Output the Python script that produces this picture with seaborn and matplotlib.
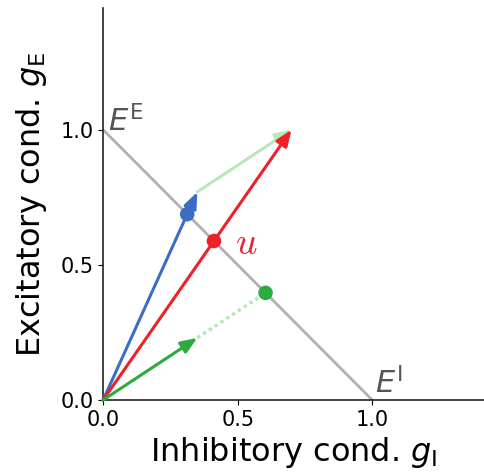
import matplotlib
matplotlib.use("Agg")
import matplotlib.pyplot as plt
import seaborn as sns
import numpy as np
import pandas as pd

# data
vec_names = ["blue", "green", "red"]
vec_gI = [0.35, 0.35, 0.70]
vec_gE = [0.77, 0.23, 1.00]
line_gI = [0.0, 1.0]
line_gE = [1.0, 0.0]
ticks = [0.0, 0.5, 1.0]
tick_labels = ["0.0", "0.5", "1.0"]

c_blue = "#3a6ec4"
c_green = "#2eab3f"
c_red = "#ee2028"
c_light = "#b6e8b8"
c_gray = "#b0b0b0"
c_text = "#555555"

sns.set_style("ticks")
plt.rcParams["text.color"] = "black"
plt.rcParams["axes.labelcolor"] = "black"
plt.rcParams["xtick.color"] = "black"
plt.rcParams["ytick.color"] = "black"

fig = plt.figure(figsize=(4.84, 4.74), dpi=100)
ax = fig.add_axes([0.213, 0.156, 0.787, 0.827])

# E line (gE + gI = 1)
df_line = pd.DataFrame({"gI": line_gI, "gE": line_gE})
sns.lineplot(data=df_line, x="gI", y="gE", color=c_gray, lw=2, ax=ax, zorder=1)

def arrow(x0, y0, x1, y1, color, z=3):
    ax.annotate("", xy=(x1, y1), xytext=(x0, y0),
                arrowprops=dict(arrowstyle="-|>,head_length=0.75,head_width=0.3",
                                color=color, lw=2.2,
                                mutation_scale=13, shrinkA=0, shrinkB=0),
                zorder=z)

bI, gI_, rI = vec_gI
bE, gE_, rE = vec_gE
# light green translated vector
arrow(bI, bE, bI + gI_, bE + gE_, c_light, z=2)
arrow(0, 0, bI, bE, c_blue)
arrow(0, 0, rI, rE, c_red)
arrow(0, 0, gI_, gE_, c_green)

# intersection points with E line
pts_x, pts_y = [], []
for xi, yi in zip(vec_gI, vec_gE):
    t = 1.0 / (xi + yi)
    pts_x.append(xi * t)
    pts_y.append(yi * t)

# dotted continuation of green vector
ax.plot([gI_, pts_x[1]], [gE_, pts_y[1]], color=c_light, lw=2.5,
        ls=(0, (1.0, 1.0)), zorder=2)

df_pts = pd.DataFrame({"x": pts_x, "y": pts_y, "name": vec_names})
sns.scatterplot(data=df_pts, x="x", y="y", hue="name",
                palette={"blue": c_blue, "green": c_green, "red": c_red},
                s=110, edgecolor="none", legend=False, ax=ax, zorder=5)

ax.text(pts_x[2] + 0.08, pts_y[2] - 0.01, r"$u$", color=c_red, fontsize=27,
        va="center", ha="left", math_fontfamily="cm")
ax.text(0.02, 0.995, r"$E^{\mathrm{E}}$", color=c_text, fontsize=22,
        va="baseline", ha="left")
ax.text(1.01, 0.025, r"$E^{\mathrm{I}}$", color=c_text, fontsize=22,
        va="baseline", ha="left")

ax.set_xlim(0, 1.415)
ax.set_ylim(0, 1.45)
ax.set_xticks(ticks)
ax.set_xticklabels(tick_labels, fontsize=15)
ax.set_yticks(ticks)
ax.set_yticklabels(tick_labels, fontsize=15)
ax.set_xlabel(r"Inhibitory cond. $g_{\mathrm{I}}$", fontsize=23, labelpad=4)
ax.set_ylabel(r"Excitatory cond. $g_{\mathrm{E}}$", fontsize=23, labelpad=8)
sns.despine(ax=ax)
for sp in ax.spines.values():
    sp.set_color("#222222")
    sp.set_linewidth(1.2)

fig.savefig("out.png", dpi=100)
